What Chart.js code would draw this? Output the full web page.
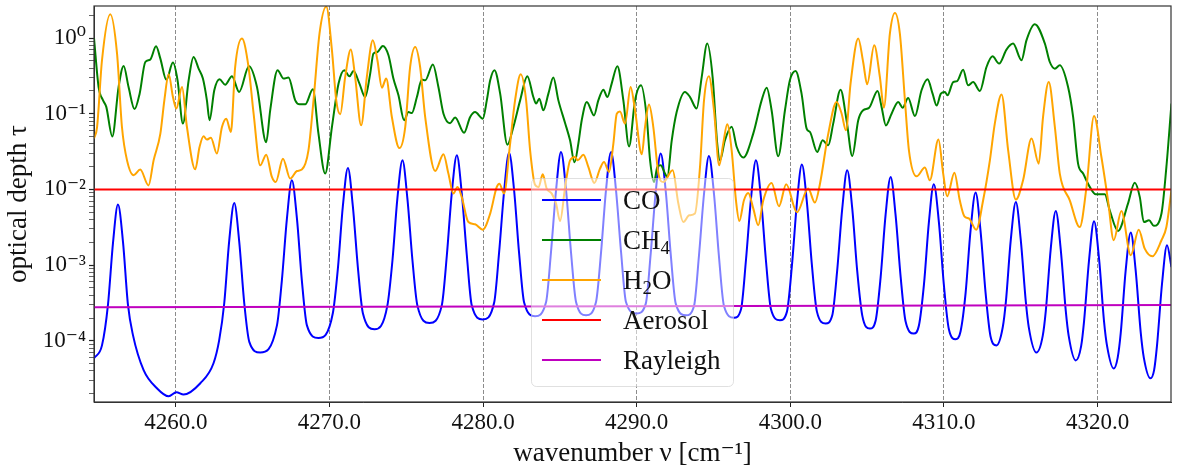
<!DOCTYPE html>
<html><head><meta charset="utf-8">
<script src="https://cdn.jsdelivr.net/npm/chart.js@4/dist/chart.umd.min.js"></script>
<style>html,body{margin:0;padding:0;background:#fff}canvas{display:block}</style>
</head><body>
<canvas id="c" width="1179" height="471"></canvas>
<script>
// ---------- data ----------
const seriesLabels = ['CO', 'CH₄', 'H₂O', 'Aerosol', 'Rayleigh'];
const xTickValues = [4260, 4270, 4280, 4290, 4300, 4310, 4320];
const xTickLabels = ['4260.0', '4270.0', '4280.0', '4290.0', '4300.0', '4310.0', '4320.0'];
const yTickValues = [1e-4, 1e-3, 1e-2, 1e-1, 1];
const yTickLabels = ['10⁻⁴', '10⁻³', '10⁻²', '10⁻¹', '10⁰'];

const coNu = [4254.67,4255.19,4255.58,4255.91,4256.23,4256.56,4256.88,4257.21,4257.90,4258.77,4259.53,4260.03,4260.50,4261.59,4262.45,4262.82,4263.15,4263.47,4263.80,4264.12,4264.45,4264.78,4265.49,
4266.58,4266.90,4267.23,4267.55,4267.88,4268.20,4268.53,4269.28,
4270.22,4270.55,4270.87,4271.20,4271.52,4271.85,4272.17,4272.93,
4273.77,4274.10,4274.42,4274.75,4275.07,4275.40,4275.72,4276.51,
4277.31,4277.64,4277.96,4278.29,4278.61,4278.94,4279.26,4279.98,
4280.72,4281.04,4281.37,4281.69,4282.02,4282.34,4282.67,4283.38,
4284.10,4284.42,4284.75,4285.07,4285.40,4285.72,4286.05,4286.70,
4287.35,4287.68,4288.00,4288.33,4288.65,4288.98,4289.30,4290.00,
4290.59,4290.91,4291.24,4291.56,4291.89,4292.21,4292.54,4293.21,
4293.73,4294.05,4294.38,4294.70,4295.03,4295.35,4295.68,4296.33,
4296.79,4297.11,4297.44,4297.76,4298.09,4298.41,4298.74,4299.32,
4299.78,4300.11,4300.43,4300.75,4301.08,4301.40,4301.73,4302.30,
4302.73,4303.05,4303.38,4303.70,4304.03,4304.35,4304.68,4305.18,
4305.55,4305.88,4306.20,4306.53,4306.85,4307.18,4307.50,4308.04,
4308.37,4308.70,4309.02,4309.34,4309.67,4309.99,4310.32,4310.76,
4311.08,4311.41,4311.73,4312.06,4312.38,4312.71,4313.03,4313.42,
4313.83,4314.03,4314.35,4314.68,4315.00,4315.33,4315.52,4316.02,
4316.43,4316.63,4316.95,4317.28,4317.60,4317.93,4318.12,4318.58,
4318.93,4319.12,4319.45,4319.77,4320.10,4320.42,4320.62,4321.05,
4321.31,4321.51,4321.83,4322.16,4322.48,4322.81,4323.01,4323.44,
4323.68,4323.87,4324.20,4324.52,4324.81];
const coTau = [5.9e-5,8.7e-5,3.0e-4,2.0e-3,6.3e-3,2.0e-3,3.0e-4,1.18e-4,4.1e-5,2.36e-5,1.85e-5,2.09e-5,1.95e-5,2.75e-5,5.05e-5,1.02e-4,3.16e-4,2.08e-3,6.6e-3,2.08e-3,3.16e-4,9.7e-5,7.0e-5,
1.6e-4,6.3e-4,4.15e-3,1.32e-2,4.15e-3,6.3e-4,1.6e-4,1.09e-4,
2.33e-4,9.2e-4,6.0e-3,1.92e-2,6.0e-3,9.2e-4,2.33e-4,1.42e-4,
2.94e-4,1.16e-3,7.6e-3,2.42e-2,7.6e-3,1.16e-3,2.94e-4,1.72e-4,
2.94e-4,1.35e-3,8.9e-3,2.82e-2,8.9e-3,1.35e-3,2.94e-4,1.91e-4,
3.2e-4,1.46e-3,9.6e-3,3.06e-2,9.6e-3,1.46e-3,3.2e-4,2.11e-4,
3.26e-4,1.49e-3,9.8e-3,3.12e-2,9.8e-3,1.49e-3,3.26e-4,2.17e-4,
3.26e-4,1.49e-3,9.8e-3,3.12e-2,9.8e-3,1.49e-3,3.26e-4,2.29e-4,
3.1e-4,1.42e-3,9.4e-3,2.97e-2,9.4e-3,1.42e-3,3.1e-4,2.17e-4,
2.88e-4,1.32e-3,8.7e-3,2.76e-2,8.7e-3,1.32e-3,2.88e-4,2.02e-4,
2.61e-4,1.16e-3,7.6e-3,2.42e-2,7.6e-3,1.16e-3,2.61e-4,1.87e-4,
2.43e-4,1.02e-3,6.7e-3,2.13e-2,6.7e-3,1.02e-3,2.43e-4,1.69e-4,
2.17e-4,8.5e-4,5.6e-3,1.79e-2,5.6e-3,8.5e-4,2.17e-4,1.45e-4,
1.84e-4,7.0e-4,4.6e-3,1.46e-2,4.6e-3,7.0e-4,1.81e-4,1.25e-4,
1.59e-4,5.6e-4,3.7e-3,1.17e-2,3.7e-3,5.6e-4,1.42e-4,1.05e-4,
1.33e-4,4.3e-4,2.86e-3,9.1e-3,2.86e-3,4.3e-4,1.15e-4,8.7e-5,
1.52e-4,3.26e-4,2.15e-3,6.8e-3,2.15e-3,3.26e-4,1.52e-4,7.0e-5,
1.16e-4,2.48e-4,1.63e-3,5.2e-3,1.63e-3,2.48e-4,1.16e-4,5.5e-5,
8.5e-5,1.81e-4,1.19e-3,3.8e-3,1.19e-3,1.81e-4,8.5e-5,4.3e-5,
6.0e-5,1.28e-4,8.5e-4,2.7e-3,8.5e-4,1.28e-4,6.0e-5,3.2e-5,
4.1e-5,8.7e-5,5.8e-4,1.83e-3,9.4e-4];

const ch4Nu = [4254.67,4254.97,4255.26,4255.47,4255.86,4256.27,4256.60,4256.92,4257.31,4257.64,4258.01,4258.33,4258.71,4258.99,4259.38,4259.81,4260.11,4260.46,4260.83,4261.15,4261.48,4261.76,4262.02,4262.19,4262.50,4262.84,4263.21,4263.65,4264.12,4264.76,4265.28,4265.88,4266.14,4266.62,4267.01,4267.33,4267.77,4268.05,4268.42,4268.92,4269.28,4269.72,4270.16,4270.59,4270.96,4271.30,4271.56,4271.95,4272.32,4272.65,4272.86,4273.12,4273.47,4273.84,4274.16,4274.49,4274.86,4275.14,4275.36,4275.69,4276.01,4276.23,4276.73,4277.09,4277.42,4277.85,4278.18,4278.76,4279.15,4279.48,4279.98,4280.24,4280.46,4280.74,4281.11,4281.58,4281.97,4282.41,4282.88,4283.27,4283.45,4283.66,4283.92,4284.25,4284.57,4284.90,4285.34,4285.66,4285.95,4286.20,4286.42,4286.75,4287.22,4287.50,4287.83,4288.09,4288.37,4288.74,4289.13,4289.50,4289.89,4290.28,4290.65,4290.87,4291.13,4291.34,4291.56,4291.84,4291.99,4292.28,4292.60,4293.14,4293.47,4293.90,4294.23,4294.59,4294.94,4295.24,4295.42,4295.74,4296.18,4296.51,4296.94,4297.59,4298.13,4298.46,4298.78,4299.21,4299.65,4299.97,4300.34,4300.73,4301.06,4301.28,4301.75,4302.10,4302.47,4302.79,4303.27,4303.66,4304.03,4304.42,4304.74,4305.13,4305.68,4305.94,4306.22,4306.59,4307.02,4307.31,4307.67,4308.11,4308.54,4308.93,4309.26,4309.52,4309.80,4310.06,4310.23,4310.60,4310.86,4311.25,4311.57,4311.90,4312.34,4312.77,4313.16,4313.59,4314.07,4314.50,4315.05,4315.37,4315.91,4316.57,4316.89,4317.22,4317.54,4318.08,4318.41,4318.73,4319.06,4319.49,4319.88,4320.47,4320.79,4321.33,4321.98,4322.42,4322.75,4323.01,4323.35,4323.66,4324.16,4324.48,4324.81];
const ch4Tau = [1.0,0.225,0.150,0.123,0.050,0.225,0.427,0.225,0.115,0.184,0.482,0.519,0.777,0.534,0.28,0.473,0.276,0.074,0.276,0.561,0.394,0.291,0.150,0.082,0.204,0.285,0.242,0.312,0.194,0.423,0.225,0.042,0.111,0.375,0.291,0.300,0.150,0.133,0.133,0.210,0.055,0.0162,0.067,0.250,0.375,0.312,0.366,0.250,0.166,0.339,0.622,0.653,0.784,0.591,0.291,0.175,0.082,0.105,0.102,0.166,0.282,0.276,0.445,0.225,0.100,0.075,0.089,0.056,0.090,0.105,0.086,0.150,0.276,0.375,0.184,0.039,0.067,0.150,0.312,0.166,0.136,0.158,0.111,0.184,0.300,0.150,0.075,0.0445,0.0228,0.0403,0.082,0.143,0.095,0.150,0.208,0.166,0.250,0.423,0.150,0.037,0.150,0.237,0.090,0.0242,0.0125,0.0198,0.0208,0.0162,0.0146,0.0445,0.105,0.194,0.166,0.117,0.305,0.843,0.305,0.0403,0.0242,0.0445,0.067,0.0363,0.0263,0.055,0.150,0.221,0.111,0.0274,0.111,0.276,0.366,0.184,0.0636,0.0573,0.0312,0.0445,0.0383,0.074,0.208,0.082,0.0276,0.082,0.111,0.120,0.200,0.123,0.070,0.100,0.143,0.120,0.161,0.093,0.204,0.285,0.184,0.128,0.184,0.194,0.175,0.262,0.270,0.382,0.237,0.262,0.200,0.414,0.573,0.459,0.703,0.843,0.508,0.932,1.52,0.843,0.482,0.394,0.436,0.225,0.090,0.0219,0.0162,0.0108,0.0086,0.0086,0.0053,0.00282,0.0065,0.0122,0.0079,0.0037,0.0039,0.0033,0.0048,0.0198,0.136];

const h2oNu = [4254.67,4254.87,4255.19,4255.73,4256.17,4256.49,4256.82,4257.25,4257.68,4258.22,4258.55,4258.99,4259.25,4259.53,4259.81,4260.03,4260.40,4260.72,4261.26,4261.54,4261.80,4262.02,4262.28,4262.67,4263.00,4263.28,4263.58,4263.86,4264.30,4264.73,4265.06,4265.49,4265.88,4266.25,4266.50,4266.97,4267.44,4267.88,4268.20,4268.63,4268.96,4269.35,4269.79,4270.16,4270.44,4270.70,4271.02,4271.39,4271.67,4272.06,4272.43,4272.82,4273.12,4273.41,4273.69,4274.06,4274.55,4274.93,4275.25,4275.58,4275.90,4276.23,4276.88,4277.42,4277.74,4278.07,4278.33,4278.61,4279.04,4279.48,4279.98,4280.46,4280.89,4281.06,4281.37,4281.71,4282.08,4282.45,4282.80,4283.06,4283.38,4283.61,4283.88,4284.14,4284.47,4284.75,4285.01,4285.34,4285.66,4285.99,4286.16,4286.53,4286.85,4287.24,4287.61,4287.87,4288.20,4288.48,4288.70,4288.91,4289.24,4289.60,4289.89,4290.33,4290.54,4290.80,4291.08,4291.41,4291.73,4292.34,4292.71,4293.03,4293.42,4293.79,4294.12,4294.38,4294.70,4295.03,4295.37,4295.63,4295.89,4296.18,4296.46,4296.68,4296.98,4297.26,4297.59,4297.91,4298.24,4298.78,4299.26,4299.73,4300.43,4301.16,4301.60,4301.93,4302.47,4303.01,4303.34,4303.62,4303.92,4304.42,4304.74,4305.00,4305.46,4305.83,4306.09,4306.48,4306.81,4307.13,4307.46,4307.72,4308.22,4308.76,4309.08,4309.64,4309.95,4310.21,4310.68,4311.03,4311.33,4311.64,4312.10,4312.55,4312.99,4313.31,4313.75,4314.18,4314.68,4315.15,4315.70,4316.17,4316.45,4316.82,4317.22,4317.54,4318.19,4318.84,4319.28,4319.77,4320.25,4320.68,4321.05,4321.55,4322.16,4322.68,4323.07,4323.57,4324.16,4324.48,4324.81];
const h2oTau = [0.0469,0.0667,0.508,2.06,0.622,0.0667,0.0242,0.0154,0.0183,0.0113,0.0242,0.0546,0.150,0.331,0.166,0.117,0.225,0.0667,0.0184,0.0363,0.0503,0.0455,0.0483,0.0297,0.0667,0.0861,0.0573,0.414,0.982,0.414,0.100,0.0208,0.0288,0.0146,0.0125,0.0255,0.0139,0.0175,0.0183,0.0328,0.150,1.143,2.6,0.688,0.150,0.0982,0.305,0.703,0.305,0.0703,0.305,0.932,0.508,0.221,0.291,0.0904,0.0352,0.0667,0.414,0.760,0.414,0.0904,0.0175,0.0291,0.0162,0.0088,0.0108,0.0079,0.0037,0.00346,0.00294,0.00479,0.0108,0.0119,0.0088,0.0328,0.150,0.331,0.150,0.0328,0.0115,0.0107,0.0158,0.01025,0.0088,0.0065,0.00382,0.0108,0.0242,0.0268,0.0242,0.0288,0.0198,0.01215,0.0188,0.0230,0.0170,0.0403,0.100,0.1066,0.074,0.226,0.111,0.0291,0.0667,0.132,0.0667,0.0162,0.0125,0.0179,0.0065,0.00371,0.00455,0.00479,0.0198,0.150,0.312,0.111,0.0208,0.0403,0.0724,0.0328,0.00718,0.00382,0.00718,0.00896,0.00558,0.00336,0.00718,0.01215,0.00598,0.0117,0.00498,0.01025,0.00669,0.0119,0.0546,0.143,0.100,0.0604,0.250,0.982,0.482,0.245,0.801,0.305,0.120,1.143,2.14,1.143,0.150,0.0328,0.0149,0.0194,0.0132,0.0455,0.0162,0.00811,0.0166,0.00718,0.00441,0.00411,0.00293,0.00718,0.0242,0.074,0.180,0.0328,0.00733,0.0132,0.0469,0.0219,0.0904,0.262,0.0667,0.0162,0.00718,0.00319,0.0108,0.0932,0.0268,0.00718,0.00213,0.00518,0.00135,0.00294,0.00165,0.00131,0.00213,0.00319,0.00973];

const aerosolNu = [4254.67, 4324.78];
const aerosolTau = [1.0e-2, 1.0e-2];
const rayleighNu = [4254.67, 4290.0, 4324.78];
const rayleighTau = [2.78e-4, 2.87e-4, 2.97e-4];

// ---------- helpers ----------
const FONT = '"Liberation Serif", "DejaVu Serif", serif';
Chart.defaults.font.family = FONT;
Chart.defaults.color = '#111';
const pts = (xs, ys) => xs.map((x, i) => ({x: x, y: ys[i]}));
const isDecade = v => Math.abs(Math.log10(v) - Math.round(Math.log10(v))) < 1e-6;

const subMap = {'₀':'0','₁':'1','₂':'2','₃':'3','₄':'4','₅':'5','₆':'6','₇':'7','₈':'8','₉':'9'};
function drawRich(ctx, text, x, y, size) {
  ctx.textBaseline = 'alphabetic';
  ctx.textAlign = 'left';
  for (const ch of text) {
    if (subMap[ch]) {
      ctx.font = (size * 0.7) + 'px ' + FONT;
      ctx.fillText(subMap[ch], x, y + size * 0.2);
      x += ctx.measureText(subMap[ch]).width;
    } else {
      ctx.font = size + 'px ' + FONT;
      ctx.fillText(ch, x, y);
      x += ctx.measureText(ch).width;
    }
  }
}

const legendPlugin = {
  id: 'boxLegend',
  afterDatasetsDraw(chart) {
    const ctx = chart.ctx, a = chart.chartArea;
    const bx = a.left + 437, by = a.top + 172, bw = 202, bh = 208;
    ctx.save();
    ctx.beginPath();
    ctx.roundRect(bx + 0.5, by + 0.5, bw, bh, 5);
    ctx.fillStyle = 'rgba(255,255,255,0.5)';
    ctx.fill();
    ctx.strokeStyle = 'rgba(204,204,204,0.6)';
    ctx.lineWidth = 1;
    ctx.stroke();
    chart.data.datasets.forEach((ds, i) => {
      const y = by + 22 + 40 * i;
      ctx.strokeStyle = ds.borderColor;
      ctx.lineWidth = 2;
      ctx.beginPath();
      ctx.moveTo(bx + 11, y);
      ctx.lineTo(bx + 70, y);
      ctx.stroke();
      ctx.fillStyle = '#111';
      drawRich(ctx, ds.label, bx + 92, y + 9, 27);
    });
    ctx.restore();
  }
};

const framePlugin = {
  id: 'frame',
  afterDraw(chart) {
    const ctx = chart.ctx, a = chart.chartArea;
    ctx.save();
    ctx.strokeStyle = '#333';
    ctx.lineWidth = 1.2;
    ctx.strokeRect(a.left, a.top, a.right - a.left, a.bottom - a.top);
    ctx.restore();
  }
};

const zeroPad = s => { s.paddingTop = 0; s.paddingBottom = 0; s.paddingLeft = 0; s.paddingRight = 0; };
const common = {pointRadius: 0, borderWidth: 2, fill: false, clip: 0};

new Chart(document.getElementById('c'), {
  type: 'line',
  data: {
    datasets: [
      Object.assign({label: seriesLabels[0], data: pts(coNu, coTau), borderColor: '#0000ff', order: 5, cubicInterpolationMode: 'monotone'}, common),
      Object.assign({label: seriesLabels[1], data: pts(ch4Nu, ch4Tau), borderColor: '#008000', order: 4, cubicInterpolationMode: 'monotone'}, common),
      Object.assign({label: seriesLabels[2], data: pts(h2oNu, h2oTau), borderColor: '#ffa500', order: 3, cubicInterpolationMode: 'monotone'}, common),
      Object.assign({label: seriesLabels[3], data: pts(aerosolNu, aerosolTau), borderColor: '#ff0000', order: 2}, common),
      Object.assign({label: seriesLabels[4], data: pts(rayleighNu, rayleighTau), borderColor: '#bf00bf', order: 1}, common)
    ]
  },
  options: {
    responsive: false,
    animation: false,
    devicePixelRatio: 1,
    layout: {padding: {top: 6, right: 8, left: 0, bottom: 0}},
    plugins: {legend: {display: false}, tooltip: {enabled: false}},
    scales: {
      x: {
        type: 'linear', bounds: 'data', min: 4254.67, max: 4324.78,
        afterBuildTicks: s => { s.ticks = xTickValues.map(v => ({value: v})); },
        afterFit: s => { s.height = 69; zeroPad(s); },
        ticks: {autoSkip: false, maxRotation: 0, minRotation: 0, padding: 2, color: '#111', font: {size: 23},
          callback: v => { const k = xTickValues.indexOf(v); return k >= 0 ? xTickLabels[k] : ''; }},
        grid: {color: '#8c8c8c', lineWidth: 1, drawTicks: true, tickLength: 5, tickColor: '#222', tickWidth: 1, tickBorderDash: []},
        border: {display: true, color: '#333', width: 1, dash: [4, 2]},
        title: {display: true, text: 'wavenumber ν [cm⁻¹]', color: '#111', font: {size: 27}, padding: {top: 0, bottom: 1}}
      },
      y: {
        type: 'logarithmic', bounds: 'data', min: 1.555e-5, max: 2.647,
        afterBuildTicks: s => {
          const vals = [];
          for (let e = -5; e <= 0; e++) for (let m = 1; m <= 9; m++) {
            const v = m * Math.pow(10, e);
            if (v >= s.min && v <= s.max) vals.push(v);
          }
          s.ticks = vals.map(v => ({value: v}));
        },
        afterFit: s => { s.width = 94; zeroPad(s); },
        ticks: {autoSkip: false, padding: 3, color: '#111', font: {size: 23},
          callback: v => { const k = yTickValues.findIndex(t => Math.abs(t - v) / t < 1e-6); return k >= 0 ? yTickLabels[k] : ''; }},
        grid: {drawOnChartArea: false, drawTicks: true, tickLength: 5, tickColor: '#222',
          tickWidth: c => (c.tick && isDecade(c.tick.value)) ? 1.2 : 0.7},
        border: {display: true, color: '#333', width: 1},
        title: {display: true, text: 'optical depth τ', color: '#111', font: {size: 27}, padding: {top: 3, bottom: 0}}
      }
    }
  },
  plugins: [legendPlugin, framePlugin]
});
</script>
</body></html>
